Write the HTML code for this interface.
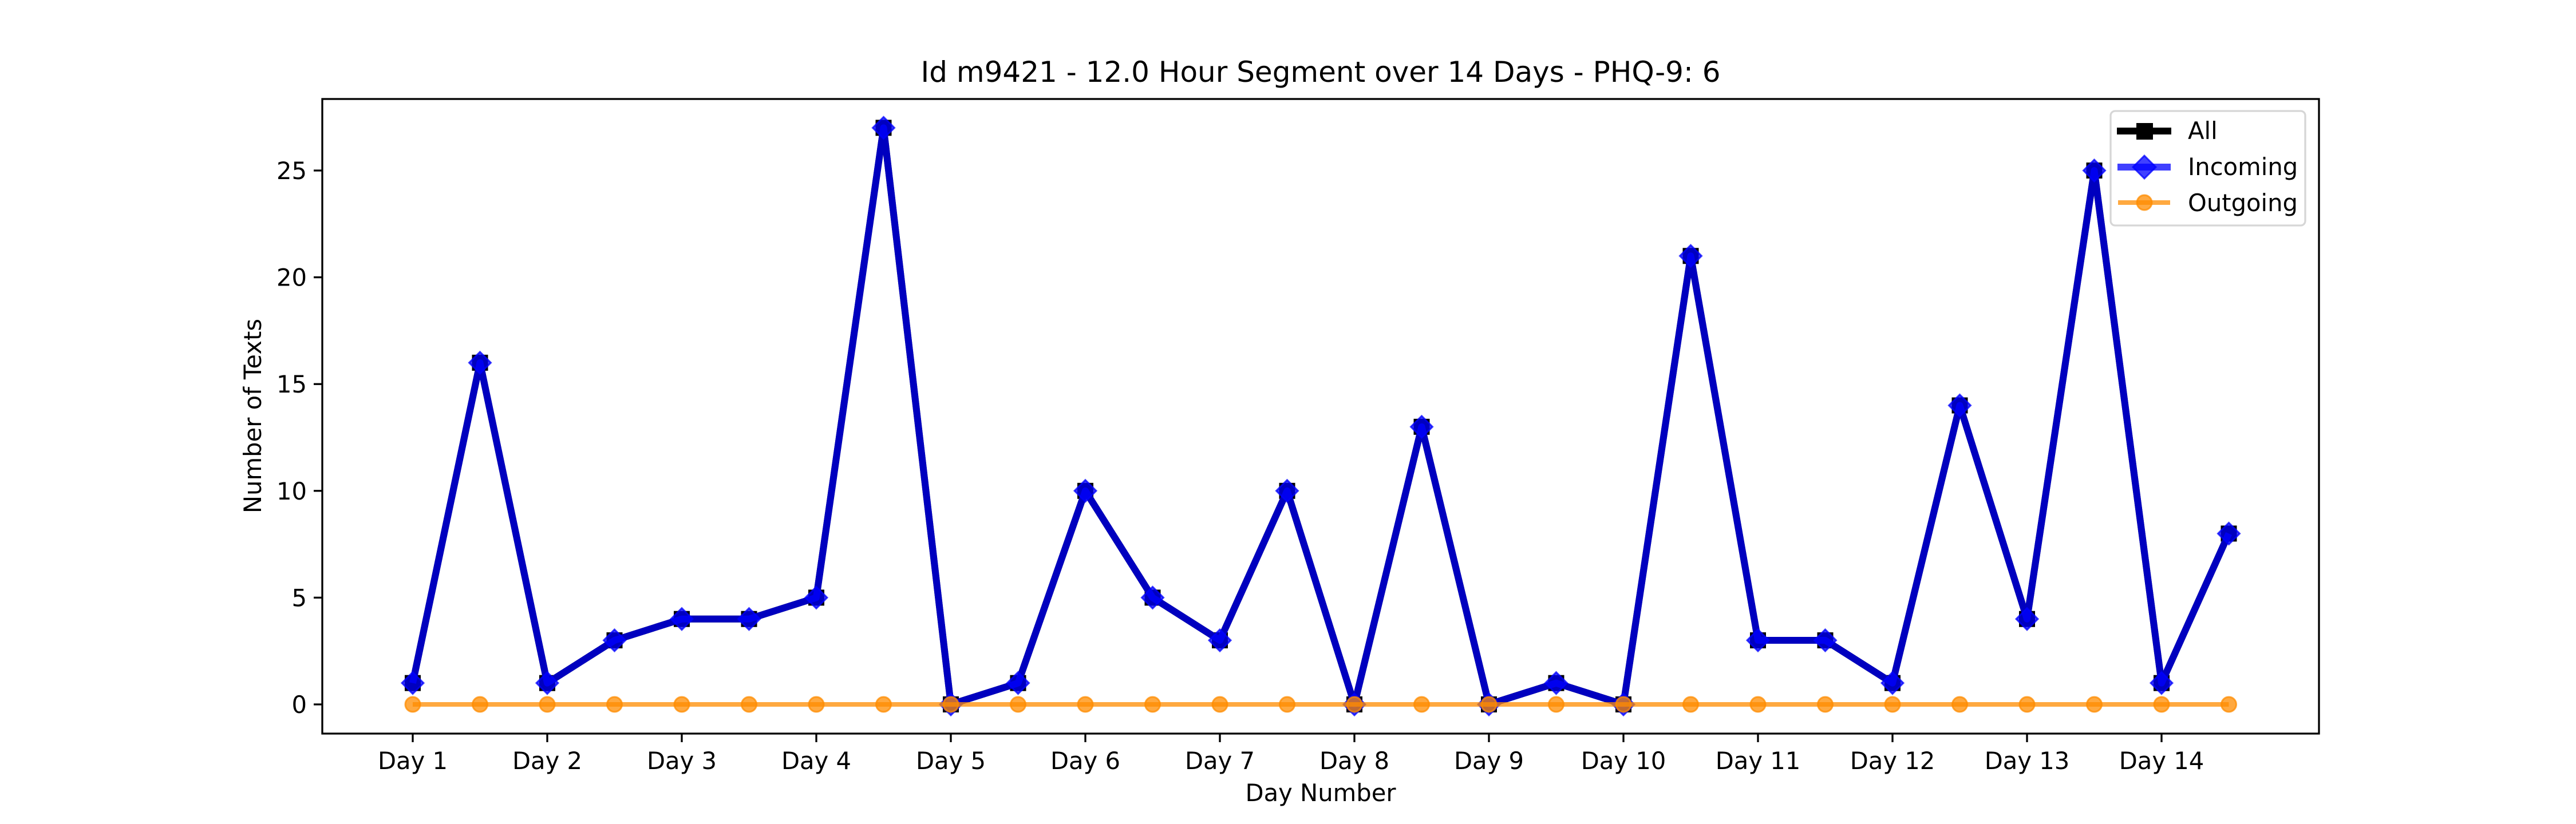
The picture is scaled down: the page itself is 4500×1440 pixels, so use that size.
<!DOCTYPE html>
<html><head><meta charset="utf-8"><style>
html,body{margin:0;padding:0;background:#fff;}
svg{display:block;font-family:"DejaVu Sans","Liberation Sans",sans-serif;}
</style></head><body>
<svg id="chart" width="4500" height="1440" viewBox="0 0 4500 1440">
<rect width="4500" height="1440" fill="#fff"/>
<text x="2307" y="143" font-size="50" text-anchor="middle">Id m9421 - 12.0 Hour Segment over 14 Days - PHQ-9: 6</text>
<g id="ticks"></g>
<g id="series"></g>
<rect x="563" y="173" width="3488" height="1109" fill="none" stroke="#000" stroke-width="3.3"/>
<text x="2307" y="1400" font-size="41.7" text-anchor="middle">Day Number</text>
<text transform="translate(456,727) rotate(-90)" font-size="41.7" text-anchor="middle">Number of Texts</text>
<g>
<rect x="3687" y="194" width="340" height="200" rx="8" fill="#fff" fill-opacity="0.8" stroke="#d6d6d6" stroke-width="3.3"/>
<g>
<line x1="3698" y1="229" x2="3793" y2="229" stroke="#000" stroke-width="12"/>
<rect x="3732" y="215" width="29" height="29" fill="#000"/>
<text x="3822" y="243" font-size="41.7">All</text></g>
<g>
<line x1="3699" y1="292" x2="3792" y2="292" stroke="#0000ff" stroke-opacity="0.75" stroke-width="12"/>
<polygon points="3746,272 3766,292 3746,312 3726,292" fill="#0000ff" fill-opacity="0.75" stroke="#0000ff" stroke-opacity="0.75" stroke-width="3"/>
<text x="3822" y="306" font-size="41.7">Incoming</text></g>
<g>
<line x1="3700" y1="354" x2="3791" y2="354" stroke="#ff8c00" stroke-opacity="0.75" stroke-width="8"/>
<circle cx="3746" cy="354" r="13" fill="#ff8c00" fill-opacity="0.75" stroke="#ff8c00" stroke-opacity="0.75" stroke-width="3"/>
<text x="3822" y="369" font-size="41.7">Outgoing</text></g>
</g>
</svg>
<script>
const categories = ["Day 1","Day 2","Day 3","Day 4","Day 5","Day 6","Day 7","Day 8","Day 9","Day 10","Day 11","Day 12","Day 13","Day 14"];
const allValues = [1,16,1,3,4,4,5,27,0,1,10,5,3,10,0,13,0,1,0,21,3,3,1,14,4,25,1,8];
const incomingValues = [1,16,1,3,4,4,5,27,0,1,10,5,3,10,0,13,0,1,0,21,3,3,1,14,4,25,1,8];
const outgoingValues = [0,0,0,0,0,0,0,0,0,0,0,0,0,0,0,0,0,0,0,0,0,0,0,0,0,0,0,0];
const yTicks = [0,5,10,15,20,25];

const NS = "http://www.w3.org/2000/svg";
const X0 = 721, DAY = 235;
function xPos(i){ return X0 + i * DAY / 2; }
function yPos(v){ return 1231 - v * 37.32; }
function mk(tag, attrs, parent){
  const e = document.createElementNS(NS, tag);
  for (const k in attrs) e.setAttribute(k, attrs[k]);
  parent.appendChild(e);
  return e;
}
const ticks = document.getElementById('ticks');
const series = document.getElementById('series');
categories.forEach((c, d) => {
  const x = xPos(d * 2);
  const t = mk('line', {x1:x, y1:1282, x2:x, y2:1297, stroke:'#000', 'stroke-width':3.3}, ticks);
  
  
  const l = mk('text', {x:x, y:1344, 'font-size':41.7, 'text-anchor':'middle'}, ticks);
  l.textContent = c;
  
  
});
yTicks.forEach(v => {
  const y = yPos(v);
  const t = mk('line', {x1:548, y1:y, x2:563, y2:y, stroke:'#000', 'stroke-width':3.3}, ticks);
  
  
  const l = mk('text', {x:536, y:y + 15, 'font-size':41.7, 'text-anchor':'end'}, ticks);
  l.textContent = v;
  
  
});
function pts(arr){ return arr.map((v, i) => xPos(i) + ',' + yPos(v)).join(' '); }

// All series
const gAll = mk('g', {}, series);


mk('polyline', {points:pts(allValues), fill:'none', stroke:'#000', 'stroke-width':12, 'stroke-linejoin':'round'}, gAll);
allValues.forEach((v, i) => {
  const r = mk('rect', {x:xPos(i) - 14, y:yPos(v) - 14, width:28, height:28, fill:'#000'}, gAll);
  
  
});

// Incoming series
const gIn = mk('g', {}, series);


mk('polyline', {points:pts(incomingValues), fill:'none', stroke:'#0000ff', 'stroke-opacity':0.75, 'stroke-width':12, 'stroke-linejoin':'round'}, gIn);
incomingValues.forEach((v, i) => {
  const x = xPos(i), y = yPos(v);
  const p = mk('polygon', {points:`${x},${y-19} ${x+19},${y} ${x},${y+19} ${x-19},${y}`, fill:'#0000ff', 'fill-opacity':0.75, stroke:'#0000ff', 'stroke-opacity':0.75, 'stroke-width':3}, gIn);
  
  
});

// Outgoing series
const gOut = mk('g', {}, series);


mk('polyline', {points:pts(outgoingValues), fill:'none', stroke:'#ff8c00', 'stroke-opacity':0.75, 'stroke-width':8}, gOut);
outgoingValues.forEach((v, i) => {
  const c = mk('circle', {cx:xPos(i), cy:yPos(v), r:13, fill:'#ff8c00', 'fill-opacity':0.75, stroke:'#ff8c00', 'stroke-opacity':0.75, 'stroke-width':3}, gOut);
  
  
});
</script>
</body></html>
